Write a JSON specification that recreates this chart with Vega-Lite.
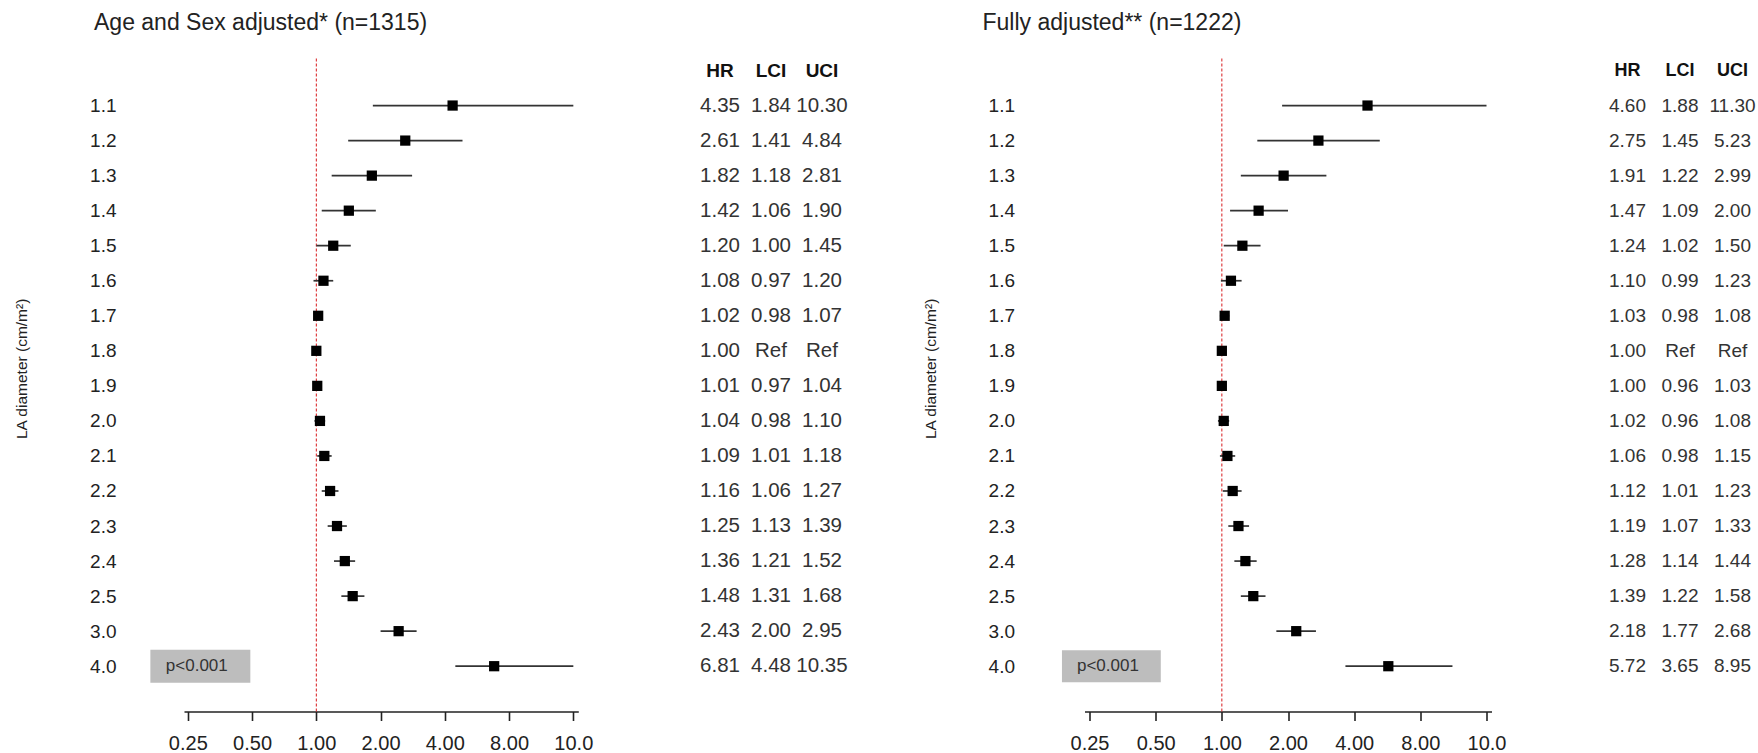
{
  "$schema": "https://vega.github.io/schema/vega-lite/v6.json",
  "background": "white",
  "padding": {"left": 14, "top": 11.5, "right": 0, "bottom": 0},
  "spacing": 58.5,
  "config": {"font": "Liberation Sans", "view": {"stroke": null}},
  "datasets": {
    "p1": [
      {"row": "1.1", "HR": "4.35", "LCI": "1.84", "UCI": "10.30", "hr": 4.35, "lo": 1.84, "hi": 16},
      {"row": "1.2", "HR": "2.61", "LCI": "1.41", "UCI": "4.84", "hr": 2.61, "lo": 1.41, "hi": 4.84},
      {"row": "1.3", "HR": "1.82", "LCI": "1.18", "UCI": "2.81", "hr": 1.82, "lo": 1.18, "hi": 2.81},
      {"row": "1.4", "HR": "1.42", "LCI": "1.06", "UCI": "1.90", "hr": 1.42, "lo": 1.06, "hi": 1.90},
      {"row": "1.5", "HR": "1.20", "LCI": "1.00", "UCI": "1.45", "hr": 1.20, "lo": 1.00, "hi": 1.45},
      {"row": "1.6", "HR": "1.08", "LCI": "0.97", "UCI": "1.20", "hr": 1.08, "lo": 0.97, "hi": 1.20},
      {"row": "1.7", "HR": "1.02", "LCI": "0.98", "UCI": "1.07", "hr": 1.02, "lo": 0.98, "hi": 1.07},
      {"row": "1.8", "HR": "1.00", "LCI": "Ref", "UCI": "Ref", "hr": 1.00, "lo": null, "hi": null},
      {"row": "1.9", "HR": "1.01", "LCI": "0.97", "UCI": "1.04", "hr": 1.01, "lo": 0.97, "hi": 1.04},
      {"row": "2.0", "HR": "1.04", "LCI": "0.98", "UCI": "1.10", "hr": 1.04, "lo": 0.98, "hi": 1.10},
      {"row": "2.1", "HR": "1.09", "LCI": "1.01", "UCI": "1.18", "hr": 1.09, "lo": 1.01, "hi": 1.18},
      {"row": "2.2", "HR": "1.16", "LCI": "1.06", "UCI": "1.27", "hr": 1.16, "lo": 1.06, "hi": 1.27},
      {"row": "2.3", "HR": "1.25", "LCI": "1.13", "UCI": "1.39", "hr": 1.25, "lo": 1.13, "hi": 1.39},
      {"row": "2.4", "HR": "1.36", "LCI": "1.21", "UCI": "1.52", "hr": 1.36, "lo": 1.21, "hi": 1.52},
      {"row": "2.5", "HR": "1.48", "LCI": "1.31", "UCI": "1.68", "hr": 1.48, "lo": 1.31, "hi": 1.68},
      {"row": "3.0", "HR": "2.43", "LCI": "2.00", "UCI": "2.95", "hr": 2.43, "lo": 2.00, "hi": 2.95},
      {"row": "4.0", "HR": "6.81", "LCI": "4.48", "UCI": "10.35", "hr": 6.81, "lo": 4.48, "hi": 16}
    ],
    "p2": [
      {"row": "1.1", "HR": "4.60", "LCI": "1.88", "UCI": "11.30", "hr": 4.60, "lo": 1.88, "hi": 16},
      {"row": "1.2", "HR": "2.75", "LCI": "1.45", "UCI": "5.23", "hr": 2.75, "lo": 1.45, "hi": 5.23},
      {"row": "1.3", "HR": "1.91", "LCI": "1.22", "UCI": "2.99", "hr": 1.91, "lo": 1.22, "hi": 2.99},
      {"row": "1.4", "HR": "1.47", "LCI": "1.09", "UCI": "2.00", "hr": 1.47, "lo": 1.09, "hi": 2.00},
      {"row": "1.5", "HR": "1.24", "LCI": "1.02", "UCI": "1.50", "hr": 1.24, "lo": 1.02, "hi": 1.50},
      {"row": "1.6", "HR": "1.10", "LCI": "0.99", "UCI": "1.23", "hr": 1.10, "lo": 0.99, "hi": 1.23},
      {"row": "1.7", "HR": "1.03", "LCI": "0.98", "UCI": "1.08", "hr": 1.03, "lo": 0.98, "hi": 1.08},
      {"row": "1.8", "HR": "1.00", "LCI": "Ref", "UCI": "Ref", "hr": 1.00, "lo": null, "hi": null},
      {"row": "1.9", "HR": "1.00", "LCI": "0.96", "UCI": "1.03", "hr": 1.00, "lo": 0.96, "hi": 1.03},
      {"row": "2.0", "HR": "1.02", "LCI": "0.96", "UCI": "1.08", "hr": 1.02, "lo": 0.96, "hi": 1.08},
      {"row": "2.1", "HR": "1.06", "LCI": "0.98", "UCI": "1.15", "hr": 1.06, "lo": 0.98, "hi": 1.15},
      {"row": "2.2", "HR": "1.12", "LCI": "1.01", "UCI": "1.23", "hr": 1.12, "lo": 1.01, "hi": 1.23},
      {"row": "2.3", "HR": "1.19", "LCI": "1.07", "UCI": "1.33", "hr": 1.19, "lo": 1.07, "hi": 1.33},
      {"row": "2.4", "HR": "1.28", "LCI": "1.14", "UCI": "1.44", "hr": 1.28, "lo": 1.14, "hi": 1.44},
      {"row": "2.5", "HR": "1.39", "LCI": "1.22", "UCI": "1.58", "hr": 1.39, "lo": 1.22, "hi": 1.58},
      {"row": "3.0", "HR": "2.18", "LCI": "1.77", "UCI": "2.68", "hr": 2.18, "lo": 1.77, "hi": 2.68},
      {"row": "4.0", "HR": "5.72", "LCI": "3.65", "UCI": "8.95", "hr": 5.72, "lo": 3.65, "hi": 11.2}
    ]
  },
  "hconcat": [
    {
      "width": 680,
      "height": 653,
      "title": {"text": "Age and Sex adjusted* (n=1315)", "anchor": "start", "frame": "group", "dx": -90, "offset": 5, "baseline": "alphabetic", "fontSize": 23, "fontWeight": "normal", "color": "#222"},
      "resolve": {"scale": {"x": "independent"}},
      "layer": [
        {
          "layer": [
            {
              "data": {"values": [{}]},
              "mark": {"type": "rule", "color": "#d7191c", "strokeWidth": 1, "strokeDash": [3, 2]},
              "encoding": {"x": {"datum": 1, "type": "quantitative", "scale": {"type": "log", "base": 2, "domain": [0.2399, 16.88], "range": [0, 394.3], "nice": false}}}
            },
            {
              "data": {"name": "p1"},
              "mark": {"type": "rule", "color": "#333", "strokeWidth": 1.7},
              "encoding": {
                "x": {"field": "lo", "type": "quantitative", "scale": {"type": "log", "base": 2, "domain": [0.2399, 16.88], "range": [0, 394.3], "nice": false},
                  "axis": {"values": [0.25, 0.5, 1, 2, 4, 8, 16], "labelExpr": "datum.value > 12 ? '10.0' : format(datum.value, '.2f')", "title": null, "grid": false, "tickSize": 9, "tickWidth": 1.6, "tickColor": "#222", "domainColor": "#222", "domainWidth": 1.6, "labelFontSize": 20, "labelPadding": 13, "labelColor": "#222", "labelFlush": false, "labelOverlap": false}},
                "x2": {"field": "hi"},
                "y": {"field": "row", "type": "ordinal", "scale": {"type": "point", "domain": ["HDR", "1.1", "1.2", "1.3", "1.4", "1.5", "1.6", "1.7", "1.8", "1.9", "2.0", "2.1", "2.2", "2.3", "2.4", "2.5", "3.0", "4.0"], "range": [12, 607.7], "padding": 0},
                  "axis": {"title": "LA diameter (cm/m\u00b2)", "titleFontSize": 15.5, "titleFontWeight": "normal", "titleColor": "#222", "titlePadding": 60.5, "domain": false, "ticks": false, "tickSize": 0, "labelPadding": 68, "labelFontSize": 19, "labelColor": "#222", "labelExpr": "datum.label == 'HDR' ? '' : datum.label", "grid": false, "labelOverlap": false}}
              }
            },
            {
              "data": {"name": "p1"},
              "mark": {"type": "point", "shape": "square", "filled": true, "color": "#000", "size": 105, "opacity": 1},
              "encoding": {
                "x": {"field": "hr", "type": "quantitative", "scale": {"type": "log", "base": 2, "domain": [0.2399, 16.88], "range": [0, 394.3], "nice": false}},
                "y": {"field": "row", "type": "ordinal"}
              }
            },
            {
              "data": {"values": [{"row": "4.0", "a": 0.1669, "b": 0.4907}]},
              "mark": {"type": "rect", "color": "#bdbdbd", "height": 33},
              "encoding": {
                "x": {"field": "a", "type": "quantitative", "scale": {"type": "log", "base": 2, "domain": [0.2399, 16.88], "range": [0, 394.3], "nice": false}},
                "x2": {"field": "b"},
                "y": {"field": "row", "type": "ordinal"}
              }
            },
            {
              "data": {"values": [{"row": "4.0", "a": 0.1972, "t": "p<0.001"}]},
              "mark": {"type": "text", "align": "left", "baseline": "middle", "fontSize": 17, "color": "#333"},
              "encoding": {
                "x": {"field": "a", "type": "quantitative", "scale": {"type": "log", "base": 2, "domain": [0.2399, 16.88], "range": [0, 394.3], "nice": false}},
                "y": {"field": "row", "type": "ordinal"},
                "text": {"field": "t"}
              }
            }
          ]
        },
        {
          "layer": [
            {
              "data": {"name": "p1"},
              "transform": [{"fold": ["HR", "LCI", "UCI"], "as": ["col", "val"]}],
              "mark": {"type": "text", "fontSize": 20.5, "color": "#333", "align": "center", "baseline": "middle"},
              "encoding": {
                "x": {"field": "col", "type": "nominal", "scale": {"type": "point", "domain": ["HR", "LCI", "UCI"], "range": [536, 638], "padding": 0}, "axis": null},
                "y": {"field": "row", "type": "ordinal"},
                "text": {"field": "val"}
              }
            },
            {
              "data": {"values": [{"col": "HR", "row": "HDR"}, {"col": "LCI", "row": "HDR"}, {"col": "UCI", "row": "HDR"}]},
              "mark": {"type": "text", "fontSize": 19, "fontWeight": "bold", "color": "#111", "align": "center", "baseline": "middle"},
              "encoding": {
                "x": {"field": "col", "type": "nominal", "scale": {"type": "point", "domain": ["HR", "LCI", "UCI"], "range": [538, 636], "padding": 0}, "axis": null},
                "y": {"field": "row", "type": "ordinal"},
                "text": {"field": "col"}
              }
            }
          ]
        }
      ]
    },
    {
      "width": 673,
      "height": 653,
      "title": {"text": "Fully adjusted** (n=1222)", "anchor": "start", "frame": "group", "dx": -102, "offset": 5, "baseline": "alphabetic", "fontSize": 23, "fontWeight": "normal", "color": "#222"},
      "resolve": {"scale": {"x": "independent"}},
      "layer": [
        {
          "layer": [
            {
              "data": {"values": [{}]},
              "mark": {"type": "rule", "color": "#d7191c", "strokeWidth": 1, "strokeDash": [3, 2]},
              "encoding": {"x": {"datum": 1, "type": "quantitative", "scale": {"type": "log", "base": 2, "domain": [0.2372, 16.86], "range": [0, 407], "nice": false}}}
            },
            {
              "data": {"name": "p2"},
              "mark": {"type": "rule", "color": "#333", "strokeWidth": 1.7},
              "encoding": {
                "x": {"field": "lo", "type": "quantitative", "scale": {"type": "log", "base": 2, "domain": [0.2372, 16.86], "range": [0, 407], "nice": false},
                  "axis": {"values": [0.25, 0.5, 1, 2, 4, 8, 16], "labelExpr": "datum.value > 12 ? '10.0' : format(datum.value, '.2f')", "title": null, "grid": false, "tickSize": 9, "tickWidth": 1.6, "tickColor": "#222", "domainColor": "#222", "domainWidth": 1.6, "labelFontSize": 20, "labelPadding": 13, "labelColor": "#222", "labelFlush": false, "labelOverlap": false}},
                "x2": {"field": "hi"},
                "y": {"field": "row", "type": "ordinal", "scale": {"type": "point", "domain": ["HDR", "1.1", "1.2", "1.3", "1.4", "1.5", "1.6", "1.7", "1.8", "1.9", "2.0", "2.1", "2.2", "2.3", "2.4", "2.5", "3.0", "4.0"], "range": [12, 607.7], "padding": 0},
                  "axis": {"title": "LA diameter (cm/m\u00b2)", "titleFontSize": 15.5, "titleFontWeight": "normal", "titleColor": "#222", "titlePadding": 50, "domain": false, "ticks": false, "tickSize": 0, "labelPadding": 70, "labelFontSize": 19, "labelColor": "#222", "labelExpr": "datum.label == 'HDR' ? '' : datum.label", "grid": false, "labelOverlap": false}}
              }
            },
            {
              "data": {"name": "p2"},
              "mark": {"type": "point", "shape": "square", "filled": true, "color": "#000", "size": 105, "opacity": 1},
              "encoding": {
                "x": {"field": "hr", "type": "quantitative", "scale": {"type": "log", "base": 2, "domain": [0.2372, 16.86], "range": [0, 407], "nice": false}},
                "y": {"field": "row", "type": "ordinal"}
              }
            },
            {
              "data": {"values": [{"row": "4.0", "a": 0.1873, "b": 0.5275}]},
              "mark": {"type": "rect", "color": "#bdbdbd", "height": 32},
              "encoding": {
                "x": {"field": "a", "type": "quantitative", "scale": {"type": "log", "base": 2, "domain": [0.2372, 16.86], "range": [0, 407], "nice": false}},
                "x2": {"field": "b"},
                "y": {"field": "row", "type": "ordinal"}
              }
            },
            {
              "data": {"values": [{"row": "4.0", "a": 0.2192, "t": "p<0.001"}]},
              "mark": {"type": "text", "align": "left", "baseline": "middle", "fontSize": 17, "color": "#333"},
              "encoding": {
                "x": {"field": "a", "type": "quantitative", "scale": {"type": "log", "base": 2, "domain": [0.2372, 16.86], "range": [0, 407], "nice": false}},
                "y": {"field": "row", "type": "ordinal"},
                "text": {"field": "t"}
              }
            }
          ]
        },
        {
          "layer": [
            {
              "data": {"name": "p2"},
              "transform": [{"fold": ["HR", "LCI", "UCI"], "as": ["col", "val"]}],
              "mark": {"type": "text", "fontSize": 19, "color": "#333", "align": "center", "baseline": "middle"},
              "encoding": {
                "x": {"field": "col", "type": "nominal", "scale": {"type": "point", "domain": ["HR", "LCI", "UCI"], "range": [543, 648], "padding": 0}, "axis": null},
                "y": {"field": "row", "type": "ordinal"},
                "text": {"field": "val"}
              }
            },
            {
              "data": {"values": [{"col": "HR", "row": "HDR"}, {"col": "LCI", "row": "HDR"}, {"col": "UCI", "row": "HDR"}]},
              "mark": {"type": "text", "fontSize": 18, "fontWeight": "bold", "color": "#111", "align": "center", "baseline": "middle"},
              "encoding": {
                "x": {"field": "col", "type": "nominal", "scale": {"type": "point", "domain": ["HR", "LCI", "UCI"], "range": [545, 646], "padding": 0}, "axis": null},
                "y": {"field": "row", "type": "ordinal"},
                "text": {"field": "col"}
              }
            }
          ]
        }
      ]
    }
  ]
}
